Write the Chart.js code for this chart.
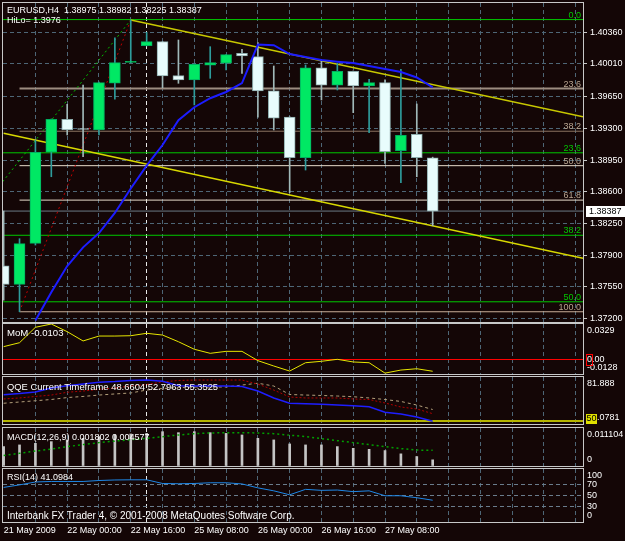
<!DOCTYPE html>
<html>
<head>
<meta charset="utf-8">
<script src="https://cdn.jsdelivr.net/npm/chart.js@4.4.1/dist/chart.umd.min.js"></script>
<style>
  body { margin: 0; background: #140606; }
  #wrap { position: relative; width: 625px; height: 541px; background: #140606; overflow: hidden;
          font-family: 'Liberation Sans', Arial, sans-serif; font-size: 9px; color: #fff; }
  canvas { position: absolute; left: 0; }
  .cap { position: absolute; left: 7px; white-space: pre; line-height: 11px; pointer-events: none; }
</style>
</head>
<body>
<div id="wrap">
  <canvas id="cMain" width="625" height="323" style="top:0px"></canvas>
  <canvas id="cMom" width="625" height="52" style="top:323px"></canvas>
  <canvas id="cQqe" width="625" height="50" style="top:375px"></canvas>
  <canvas id="cMacd" width="625" height="42" style="top:425px"></canvas>
  <canvas id="cRsi" width="625" height="74" style="top:467px"></canvas>
  <div class="cap" style="top:5px">EURUSD,H4  1.38975 1.38982 1.38225 1.38387</div>
  <div class="cap" style="top:15px">HiLo= 1.3976</div>
  <div class="cap" style="top:327px;font-size:9.6px">MoM -0.0103</div>
  <div class="cap" style="top:381px;font-size:9.4px">QQE Current Timeframe 48.6604 52.7963 55.3525</div>
  <div class="cap" style="top:432px">MACD(12,26,9) 0.001802 0.004577</div>
  <div class="cap" style="top:472px">RSI(14) 41.0984</div>
  <div class="cap" style="top:510px;font-size:10px">Interbank FX Trader 4, © 2001-2008 MetaQuotes Software Corp.</div>
</div>
<script>
// EURUSD H4 candles, 21 May 08:00 .. 27 May 20:00
const opens  = [1.37784, 1.37579, 1.38031, 1.39036, 1.39400, 1.39293, 1.39282, 1.39797, 1.40027, 1.40212,
                1.40256, 1.39881, 1.39834, 1.39996, 1.40018, 1.40128, 1.40091, 1.39715, 1.39425, 1.38976,
                1.39969, 1.39775, 1.39930, 1.39767, 1.39804, 1.39053, 1.39234, 1.38975];
const highs  = [1.38388, 1.38082, 1.39171, 1.39403, 1.39565, 1.39778, 1.39811, 1.40300, 1.40496, 1.40360,
                1.40258, 1.40275, 1.40010, 1.40201, 1.40115, 1.40172, 1.40245, 1.39988, 1.39428, 1.39999,
                1.40054, 1.40018, 1.39933, 1.39841, 1.39834, 1.39952, 1.39569, 1.38982];
const lows   = [1.37405, 1.37276, 1.38012, 1.38766, 1.39227, 1.38987, 1.39227, 1.39621, 1.40021, 1.40209,
                1.39749, 1.39797, 1.39558, 1.39852, 1.39944, 1.39907, 1.39422, 1.39282, 1.38590, 1.38840,
                1.39613, 1.39723, 1.39473, 1.39252, 1.38914, 1.38700, 1.38766, 1.38225];
const closes = [1.37579, 1.38027, 1.39036, 1.39400, 1.39282, 1.39287, 1.39804, 1.40025, 1.40032, 1.40256,
                1.39878, 1.39834, 1.40007, 1.40025, 1.40113, 1.40098, 1.39712, 1.39411, 1.38976, 1.39969,
                1.39775, 1.39930, 1.39767, 1.39804, 1.39042, 1.39223, 1.38976, 1.38387];
const movingAvg = [null, null, 1.37180, 1.37491, 1.37780, 1.37987, 1.38145, 1.38366, 1.38636, 1.38888,
                1.39116, 1.39389, 1.39533, 1.39632, 1.39701, 1.39800, 1.40225, 1.40217, 1.40120, 1.40087,
                1.40054, 1.40036, 1.40021, 1.39988, 1.39955, 1.39922, 1.39861, 1.39751];

// drawn objects (bar index, price)
const upperTrendBars = [8, 36.46], upperTrendPrices = [1.40496, 1.39428];
const lowerTrendBars = [0, 36.46], lowerTrendPrices = [1.39246, 1.37866];
const greenDiagBars = [-0.06, 8], greenDiagPrices = [1.38711, 1.40496];
const redDiagBars = [1, 8], redDiagPrices = [1.37276, 1.40496];
const tanFibNames = ['23.6', '38.2', '50.0', '61.8', '100.0'];
const tanFibLevels = [1.39739, 1.39268, 1.38888, 1.38508, 1.37276];
const tanFibStart = 1;
const greenFibNames = ['0.0', '23.6', '38.2', '50.0'];
const greenFibLevels = [1.40500, 1.39030, 1.38120, 1.37386];

const priceTicks = [1.37200, 1.37550, 1.37900, 1.38250, 1.38600, 1.38950, 1.39300, 1.39650, 1.40010, 1.40360];
const timeLabels = ['21 May 2009', '22 May 00:00', '22 May 16:00', '25 May 08:00', '26 May 00:00', '26 May 16:00', '27 May 08:00'];
const gridBars = [0, 2, 4, 6, 8, 9, 10, 12, 14, 16, 18, 20, 22, 24, 26, 28, 30, 32, 34, 36];
const separatorBar = 9;

const momentum = [0.0122, 0.0158, 0.0299, 0.0329, 0.0259, 0.0174, 0.0219, 0.0219, 0.0222, 0.0244,
                  0.0228, 0.0167, 0.0098, 0.0061, 0.0079, 0.0079, -0.0006, -0.0055, -0.0101, -0.0025,
                  -0.0012, 0.0006, -0.0018, -0.0025, -0.0120, -0.0092, -0.0080, -0.0103];
const momAxisNames = ['0.0329', '0.00', '-0.0128'];
const momAxisValues = [0.0329, 0, -0.0128];

const qqeMain = [69.2, 70.0, 71.1, 74.0, 75.6, 76.9, 78.1, 78.6, 79.4, 79.7,
                 78.8, 75.6, 75.4, 75.4, 75.4, 75.1, 71.8, 66.8, 63.0, 62.7,
                 62.2, 61.7, 61.2, 60.5, 56.5, 55.3, 53.1, 50.0];
const qqeFast = [66.1, 66.8, 67.9, 68.9, 70.9, 71.8, 73.0, 74.0, 75.4, 76.5,
                 78.3, 79.4, 79.7, 79.7, 79.7, 79.7, 76.8, 72.5, 67.5, 66.8,
                 66.8, 66.8, 66.1, 65.7, 63.2, 60.3, 58.9, 55.5];
const qqeSlow = [63.0, 63.9, 64.8, 65.7, 67.1, 67.9, 68.9, 69.7, 70.4, 72.5,
                 73.6, 74.3, 74.7, 74.7, 74.7, 76.1, 77.4, 75.4, 69.3, 68.9,
                 68.6, 68.2, 67.7, 66.8, 65.7, 64.3, 61.7, 58.5];
const qqeAxisNames = ['81.888', '48.0781'];
const qqeAxisValues = [81.888, 48.0781];
const qqeLevel = 50;

const macdHist = [0.00567, 0.00616, 0.00663, 0.00712, 0.00762, 0.00808, 0.00858, 0.00907, 0.00936, 0.00953,
                  0.01003, 0.00974, 0.01003, 0.00974, 0.00953, 0.00907, 0.00808, 0.00762, 0.00645, 0.00616,
                  0.00616, 0.00567, 0.00517, 0.00488, 0.00451, 0.00355, 0.00276, 0.00180];
const macdSignal = [0.00305, 0.00372, 0.00436, 0.00494, 0.00567, 0.00625, 0.00683, 0.00727, 0.00770, 0.00808,
                    0.00858, 0.00907, 0.00945, 0.00965, 0.00974, 0.00974, 0.00965, 0.00945, 0.00901, 0.00858,
                    0.00799, 0.00741, 0.00683, 0.00625, 0.00567, 0.00509, 0.00465, 0.00458];
const macdAxisNames = ['0.011104', '0'];
const macdAxisValues = [0.011104, 0];

const rsi = [65.3, 70.0, 75.5, 76.5, 76.5, 76.5, 78.3, 79.3, 79.6, 79.6,
             72.7, 72.2, 72.7, 74.0, 74.0, 71.8, 64.4, 58.8, 51.3, 61.6,
             59.7, 60.3, 57.3, 58.8, 49.5, 49.5, 45.8, 41.1];
const rsiLevels = [30, 50, 70];
const rsiAxisNames = ['100', '70', '50', '30', '0'];
const rsiAxisValues = [100, 70, 50, 30, 0];

const xMin = -0.04, xMax = 36.46;
const FONT = '9px "Liberation Sans", Arial, sans-serif';
const GRID = '#4e6676';

Chart.defaults.font.family = "'Liberation Sans', Arial, sans-serif";
Chart.defaults.font.size = 9;
Chart.defaults.color = '#ffffff';

const isUp = i => closes[i] >= opens[i];
const pts = arr => arr.map((v, i) => ({ x: i, y: v })).filter(p => p.y !== null);
const pairPts = (xs, ys) => xs.map((x, i) => ({ x: x, y: ys[i] }));
const noPad = s => { s.paddingTop = 0; s.paddingBottom = 0; s.paddingLeft = 0; s.paddingRight = 0; };

let lineSet = (data, color, width, dash, order) => ({
  type: 'line', data: data, borderColor: color, borderWidth: width, borderDash: dash || [],
  pointRadius: 0, tension: 0, fill: false, order: order, spanGaps: false,
});

let xScale = (labels) => ({
  type: 'linear', min: xMin, max: xMax, offset: false,
  afterBuildTicks: s => { s.ticks = gridBars.map(v => ({ value: v })); },
  afterFit: s => { s.height = labels ? 19 : 0; noPad(s); },
  grid: {
    offset: false, drawTicks: false,
    color: ctx => {
      const v = ctx.tick ? ctx.tick.value : -1;
      if (v === 0) return 'rgba(0,0,0,0)';
      return v === separatorBar ? '#e8e8e8' : GRID;
    },
  },
  border: { display: false, dash: [4, 3] },
  ticks: {
    display: labels, align: 'start', padding: 3, color: '#ffffff', maxRotation: 0, autoSkip: false,
    callback: v => (v % 4 === 0 && v / 4 < timeLabels.length) ? timeLabels[v / 4] : '',
  },
});

let sideScale = (min, max, gridTicks, color, width, dash) => ({
  position: 'right', min: min, max: max,
  afterBuildTicks: s => { s.ticks = gridTicks.map(v => ({ value: v })); },
  afterFit: s => { s.width = 42; noPad(s); },
  grid: { color: color, lineWidth: width, drawTicks: false },
  border: { display: false, dash: dash },
  ticks: { display: false },
});

const framePlugin = {
  id: 'frame',
  afterDraw(chart) {
    const a = chart.chartArea, c = chart.ctx;
    c.save();
    c.strokeStyle = '#c8c8c8';
    c.lineWidth = 1;
    c.strokeRect(a.left - 0.5, a.top - 0.5, a.right - a.left + 1, a.bottom - a.top + 1);
    c.restore();
  },
};

let sideLabels = (names, values, extra) => ({
  id: 'sideLabels',
  afterDraw(chart) {
    const a = chart.chartArea, c = chart.ctx, y = chart.scales.y;
    c.save();
    c.font = FONT;
    c.fillStyle = '#ffffff';
    c.textBaseline = 'middle';
    names.forEach((t, i) => {
      let py = y.getPixelForValue(values[i]);
      py = Math.min(Math.max(py, a.top + 7), a.bottom - 6);
      c.fillText(t, a.right + 4, py);
    });
    if (extra) extra(chart, c, a, y);
    c.restore();
  },
});

const mainLabels = {
  id: 'mainLabels',
  afterDraw(chart) {
    const a = chart.chartArea, c = chart.ctx, y = chart.scales.y;
    c.save();
    c.font = FONT;
    c.textAlign = 'right';
    c.textBaseline = 'alphabetic';
    c.fillStyle = '#b8a490';
    tanFibLevels.forEach((v, i) => c.fillText(tanFibNames[i], a.right - 2, y.getPixelForValue(v) - 2));
    c.fillStyle = '#00c800';
    greenFibLevels.forEach((v, i) => c.fillText(greenFibNames[i], a.right - 2, y.getPixelForValue(v) - 2));
    const last = closes[closes.length - 1];
    const py = Math.round(y.getPixelForValue(last));
    c.fillStyle = '#ffffff';
    c.fillRect(a.right + 3, py - 5, 42, 11);
    c.fillStyle = '#000000';
    c.textAlign = 'left';
    c.textBaseline = 'middle';
    c.fillText(last.toFixed(5), a.right + 6, py + 0.5);
    c.restore();
  },
};

const baseOptions = (pad, x, y) => ({
  responsive: false, animation: false, devicePixelRatio: 1, events: [],
  layout: { padding: pad },
  plugins: { legend: { display: false }, tooltip: { enabled: false } },
  scales: { x: x, y: y },
});

// main price panel
const mainSets = [
  lineSet(pts(movingAvg), '#1c1cff', 2, [], 0),
  {
    type: 'bar', order: 1, grouped: false, barThickness: 11, minBarLength: 1,
    data: opens.map((o, i) => ({ x: i, y: [o, closes[i]] })),
    backgroundColor: ctx => isUp(ctx.dataIndex) ? '#00e864' : '#e8fcfc',
    borderColor: ctx => isUp(ctx.dataIndex) ? '#00b060' : '#8cacac',
    borderWidth: 1, borderSkipped: false,
  },
  {
    type: 'bar', order: 2, grouped: false, barThickness: 1,
    data: lows.map((l, i) => ({ x: i, y: [l, highs[i]] })),
    backgroundColor: ctx => isUp(ctx.dataIndex) ? '#2e9c9c' : '#a0b8b8',
    borderWidth: 0,
  },
  lineSet(pairPts(upperTrendBars, upperTrendPrices), '#c8c800', 1.5, [], 3),
  lineSet(pairPts(lowerTrendBars, lowerTrendPrices), '#d8d800', 1.5, [], 3),
  lineSet(pairPts(greenDiagBars, greenDiagPrices), '#00c000', 1, [2, 3], 3),
  lineSet(pairPts(redDiagBars, redDiagPrices), '#c00000', 1, [2, 3], 3),
  lineSet(pairPts([xMin, xMax], [closes[closes.length - 1], closes[closes.length - 1]]), '#6a7a86', 1, [], 4),
];
const tanColors = ['#9c8c80', '#8c7462', '#e8dccc', '#e8dccc', '#c8ae98'];
const tanWidths = [2, 1, 1, 1, 1];
tanFibLevels.forEach((v, i) => mainSets.push(lineSet(pairPts([tanFibStart, xMax], [v, v]), tanColors[i], tanWidths[i], [], 5)));
greenFibLevels.forEach(v => mainSets.push(lineSet(pairPts([xMin, xMax], [v, v]), '#00c800', 1, [], 5)));

new Chart(document.getElementById('cMain'), {
  type: 'bar',
  data: { datasets: mainSets },
  options: baseOptions({ left: 3, top: 3, right: 0, bottom: 1 }, xScale(false), {
    position: 'right', min: 1.37163, max: 1.40683,
    afterBuildTicks: s => { s.ticks = priceTicks.map(v => ({ value: v })); },
    afterFit: s => { s.width = 42; noPad(s); },
    grid: { color: GRID, drawTicks: true, tickLength: 4, tickColor: '#c8c8c8', tickBorderDash: [] },
    border: { display: false, dash: [4, 3] },
    ticks: { color: '#ffffff', padding: 3, autoSkip: false, callback: v => v.toFixed(5) },
  }),
  plugins: [framePlugin, mainLabels],
});

// momentum
new Chart(document.getElementById('cMom'), {
  type: 'line',
  data: { datasets: [lineSet(pts(momentum), '#e6e600', 1, [], 0)] },
  options: baseOptions({ left: 3, top: 1, right: 0, bottom: 1 }, xScale(false),
    sideScale(-0.0128, 0.0329, [0], '#ff0000', 1, [])),
  plugins: [framePlugin, sideLabels(momAxisNames, momAxisValues, (chart, c, a, y) => {
    const py = y.getPixelForValue(0);
    c.strokeStyle = '#ff0000';
    c.strokeRect(a.right + 3.5, Math.round(py) - 5.5, 6, 11);
  })],
});

// QQE
new Chart(document.getElementById('cQqe'), {
  type: 'line',
  data: { datasets: [
    lineSet(pts(qqeMain), '#1e1eff', 1.5, [], 0),
    lineSet(pts(qqeFast), '#b00000', 1, [2, 2], 1),
    lineSet(pts(qqeSlow), '#b4a07c', 1, [3, 3], 2),
  ] },
  options: baseOptions({ left: 3, top: 2, right: 0, bottom: 1 }, xScale(false),
    sideScale(48.0781, 81.888, [qqeLevel], '#b4b400', 2, [])),
  plugins: [framePlugin, sideLabels(qqeAxisNames, qqeAxisValues, (chart, c, a, y) => {
    const py = Math.min(Math.round(y.getPixelForValue(qqeLevel)), a.bottom - 5);
    c.fillStyle = '#e0e000';
    c.fillRect(a.right + 3, py - 5, 11, 10);
    c.fillStyle = '#000000';
    c.fillText(String(qqeLevel), a.right + 3.5, py);
  })],
});

// MACD
new Chart(document.getElementById('cMacd'), {
  type: 'bar',
  data: { datasets: [
    lineSet(pts(macdSignal), '#00a000', 1.5, [2, 3], 0),
    { type: 'bar', order: 1, grouped: false, barThickness: 2, data: pts(macdHist),
      backgroundColor: '#c4c4c4', borderWidth: 0 },
  ] },
  options: baseOptions({ left: 3, top: 3, right: 0, bottom: 1 }, xScale(false),
    sideScale(0, 0.011104, [0], 'rgba(0,0,0,0)', 1, [])),
  plugins: [framePlugin, sideLabels(macdAxisNames, macdAxisValues)],
});

// RSI with time axis
new Chart(document.getElementById('cRsi'), {
  type: 'line',
  data: { datasets: [lineSet(pts(rsi), '#1e88e8', 1, [], 0)] },
  options: baseOptions({ left: 3, top: 2, right: 0, bottom: 0 }, xScale(true),
    sideScale(0, 100, rsiLevels, '#6a7c8c', 1, [4, 3])),
  plugins: [framePlugin, sideLabels(rsiAxisNames, rsiAxisValues)],
});
</script>
</body>
</html>
